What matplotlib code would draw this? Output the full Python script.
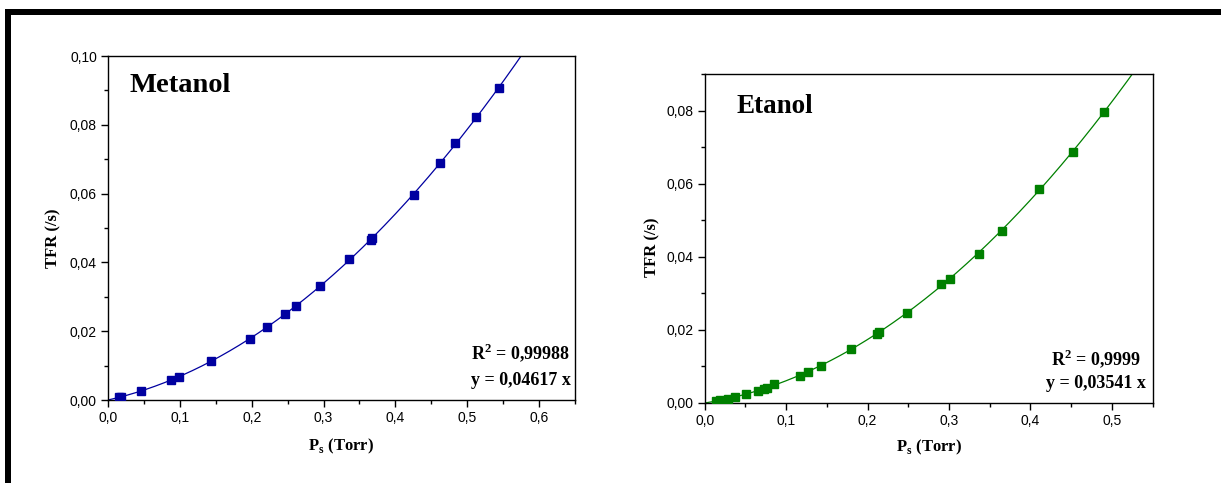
import numpy as np
import matplotlib
matplotlib.use("Agg")
import matplotlib.pyplot as plt
from matplotlib.ticker import MultipleLocator, FuncFormatter
from matplotlib.patches import Rectangle

# ---- data ----
met_x = [0.0149, 0.018, 0.046, 0.087, 0.0985, 0.144, 0.197, 0.222, 0.246, 0.261,
         0.295, 0.336, 0.366, 0.368, 0.4266, 0.462, 0.483, 0.512, 0.544]
met_y = [0.00097, 0.0010, 0.0027, 0.0058, 0.0066, 0.0114, 0.0178, 0.0213, 0.0250, 0.0272,
         0.0332, 0.0409, 0.0466, 0.0470, 0.0595, 0.0688, 0.0748, 0.0822, 0.0906]
eta_x = [0.0139, 0.0186, 0.0282, 0.0368, 0.0511, 0.066, 0.0731, 0.077, 0.0851, 0.1166,
         0.1267, 0.1424, 0.1802, 0.2113, 0.2146, 0.2481, 0.2906, 0.3007, 0.337, 0.3657,
         0.4111, 0.4522, 0.49]
eta_y = [0.00064, 0.00082, 0.0012, 0.0016, 0.0024, 0.0034, 0.0039, 0.0042, 0.0052, 0.0075,
         0.0085, 0.0102, 0.0149, 0.0190, 0.0194, 0.0247, 0.0325, 0.0340, 0.0408, 0.0471,
         0.0585, 0.0687, 0.0797]
titles = ["Metanol", "Etanol"]
r2_labels = ["0,99988", "0,9999"]
slope_labels = ["0,04617", "0,03541"]

plt.rcParams['mathtext.fontset'] = 'custom'
plt.rcParams['mathtext.rm'] = 'Liberation Serif:bold'
plt.rcParams['mathtext.bf'] = 'Liberation Serif:bold'

W, H = 1221, 483
fig = plt.figure(figsize=(W / 100, H / 100), dpi=100)
fig.patch.set_facecolor('white')

# frame bars
fig.add_artist(Rectangle((5 / W, (H - 15) / H), (W - 5) / W, 6 / H,
                         transform=fig.transFigure, color='black', lw=0))
fig.add_artist(Rectangle((5 / W, 0), 6 / W, (H - 9) / H,
                         transform=fig.transFigure, color='black', lw=0))

serif = 'Liberation Serif'
sans = 'Liberation Sans'

specs = [
    dict(rect=[108 / W, (H - 400) / H, 467 / W, 344 / H], x=met_x, y=met_y,
         color='#0000a0', xlim=(0, 0.65), ylim=(0, 0.10),
         title_pos=(0.047, 0.895), title_fs=20.5, txt_x=0.884,
         r2_y=0.119, sl_y=0.044, ylab=(-0.1, 0.47), xlab=(0.5, -0.108)),
    dict(rect=[704.7 / W, (H - 403) / H, 447.8 / W, 329 / H], x=eta_x, y=eta_y,
         color='#008000', xlim=(0, 0.55), ylim=(0, 0.09),
         title_pos=(0.07, 0.881), title_fs=19.5, txt_x=0.874,
         r2_y=0.1155, sl_y=0.046, ylab=(-0.1, 0.473), xlab=(0.5, -0.106)),
]

for i, s in enumerate(specs):
    ax = fig.add_axes(s['rect'])
    x = np.array(s['x'])
    y = np.array(s['y'])
    # least-squares fit y = a x + b x^2
    A = np.column_stack([x, x ** 2])
    coef, *_ = np.linalg.lstsq(A, y, rcond=None)
    xf = np.linspace(0, s['xlim'][1], 300)
    yf = coef[0] * xf + coef[1] * xf ** 2
    ax.plot(xf, yf, color=s['color'], lw=0.9, zorder=2)
    ax.plot(x, y, ls='none', marker='s', ms=5.2, color=s['color'], zorder=3)

    ax.set_xlim(*s['xlim'])
    ax.set_ylim(*s['ylim'])
    ax.xaxis.set_major_locator(MultipleLocator(0.1))
    ax.xaxis.set_minor_locator(MultipleLocator(0.05))
    ax.yaxis.set_major_locator(MultipleLocator(0.02))
    ax.yaxis.set_minor_locator(MultipleLocator(0.01))
    ax.xaxis.set_major_formatter(FuncFormatter(lambda v, p: f"{v:.1f}".replace('.', ',')))
    ax.yaxis.set_major_formatter(FuncFormatter(lambda v, p: f"{v:.2f}".replace('.', ',')))
    ax.tick_params(which='major', direction='out', length=5, width=1, labelsize=10,
                   top=False, right=False, pad=3)
    ax.tick_params(which='minor', direction='out', length=3, width=1,
                   top=False, right=False)
    for lab in ax.get_xticklabels() + ax.get_yticklabels():
        lab.set_family(sans)
    for sp in ax.spines.values():
        sp.set_linewidth(1.0)
        sp.set_color('black')

    ax.set_ylabel('TFR (/s)', family=serif, fontweight='bold', fontsize=12)
    ax.set_xlabel(r'P$_\mathregular{s}$ (Torr)', family=serif, fontweight='bold', fontsize=12)
    ax.yaxis.set_label_coords(*s['ylab'])
    ax.xaxis.set_label_coords(*s['xlab'])

    ax.text(s['title_pos'][0], s['title_pos'][1], titles[i], transform=ax.transAxes,
            family=serif, fontweight='bold', fontsize=s['title_fs'], va='baseline', ha='left')
    ax.text(s['txt_x'], s['r2_y'], r'R$^\mathregular{2}$ = ' + r2_labels[i], transform=ax.transAxes,
            family=serif, fontweight='bold', fontsize=13, va='baseline', ha='center')
    ax.text(s['txt_x'], s['sl_y'], 'y = ' + slope_labels[i] + ' x', transform=ax.transAxes,
            family=serif, fontweight='bold', fontsize=13, va='baseline', ha='center')

fig.savefig('out.png', dpi=100, facecolor='white')
